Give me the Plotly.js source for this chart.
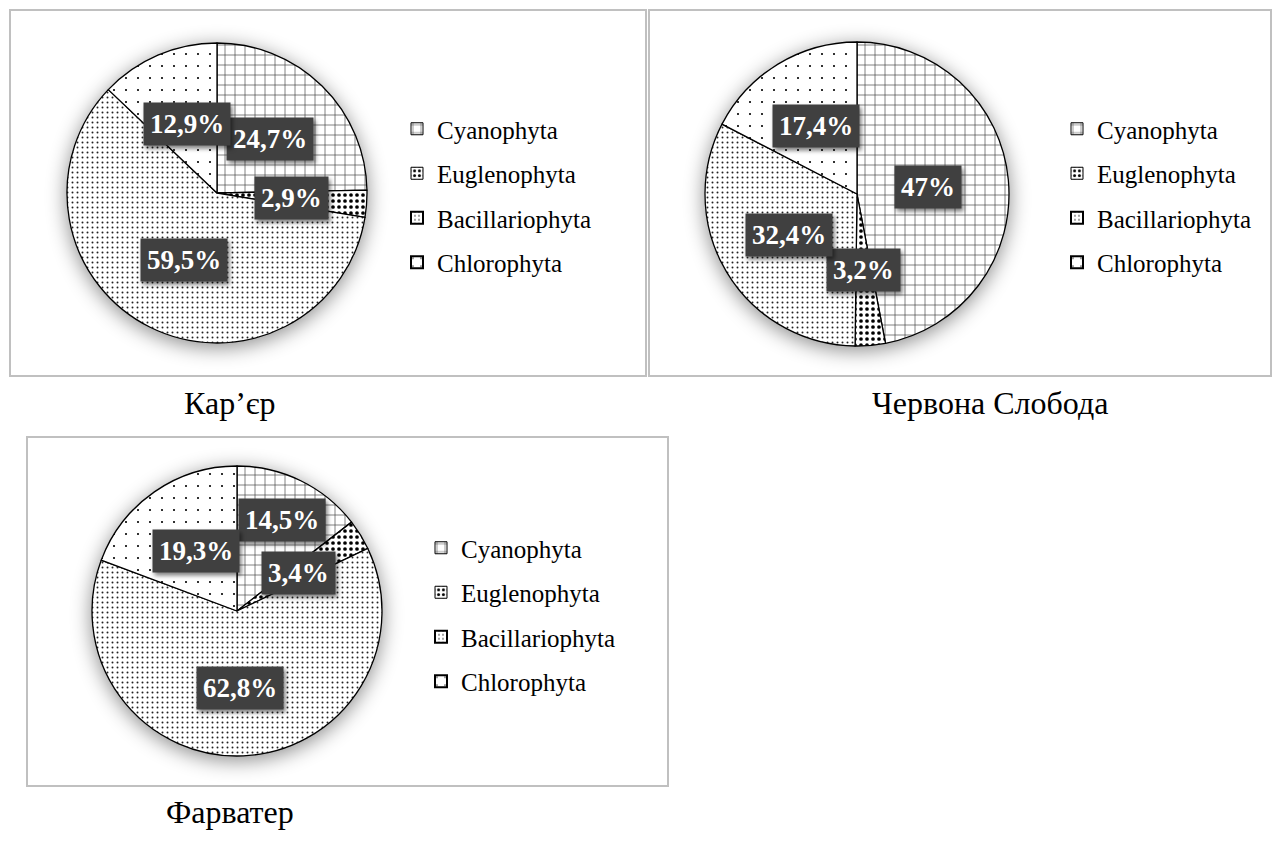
<!DOCTYPE html>
<html>
<head>
<meta charset="utf-8">
<script src="https://cdn.plot.ly/plotly-3.0.1.min.js"></script>
<style>
html, body { margin: 0; padding: 0; background: #ffffff; }
#chart { width: 1272px; height: 849px; }
.pielayer .trace { filter: drop-shadow(0px 4px 10px rgba(0,0,0,0.45)); }
.annotation-text-g rect.bg { filter: drop-shadow(2px 3px 2px rgba(0,0,0,0.5)); }
</style>
</head>
<body>
<div id="chart"></div>
<script>
// ---------- data ----------
const categories = ['Cyanophyta', 'Euglenophyta', 'Bacillariophyta', 'Chlorophyta'];
const karierValues = [24.7, 2.9, 59.5, 12.9];
const slobodaValues = [47, 3.2, 32.4, 17.4];
const farvaterValues = [14.5, 3.4, 62.8, 19.3];
const siteNames = ['Кар’єр', 'Червона Слобода', 'Фарватер'];

// ---------- styles / geometry (pixels) ----------
const W = 1272, H = 849;
const FONT = '"Liberation Serif", "Times New Roman", serif';
const patterns = [
  { shape: '+', size: 10, solidity: 0.12, fgcolor: '#333333', bgcolor: '#ffffff' },
  { shape: '.', size: 6, solidity: 0.3, fgcolor: '#000000', bgcolor: '#ffffff' },
  { shape: '.', size: 5, solidity: 0.12, fgcolor: '#222222', bgcolor: '#ffffff' },
  { shape: '.', size: 12, solidity: 0.025, fgcolor: '#000000', bgcolor: '#ffffff' }
];
const panels = [
  { values: karierValues, cx: 217, cy: 193, r: 150, box: [10, 10, 646, 376],
    title: [230, 403], legend: [397, 106], labelK: [0.5, 0.5, 0.5, 0.5] },
  { values: slobodaValues, cx: 857, cy: 194, r: 152, box: [649, 10, 1271, 376],
    title: [990, 403], legend: [1057, 106], labelK: [0.47, 0.5, 0.52, 0.52] },
  { values: farvaterValues, cx: 237, cy: 611, r: 145, box: [27, 437, 668, 786],
    title: [230, 812], legend: [421, 525], labelK: [0.7, 0.5, 0.53, 0.5] }
];

const px = x => x / W;
const py = y => 1 - y / H;
const fmt = v => String(v).replace('.', ',') + '%';

const traces = [];
const annotations = [];
const shapes = [];
const layout = {
  width: W, height: H,
  margin: { l: 0, r: 0, t: 0, b: 0 },
  paper_bgcolor: '#ffffff', plot_bgcolor: '#ffffff',
  xaxis: { visible: false }, yaxis: { visible: false },
  showlegend: true,
  annotations: annotations, shapes: shapes
};

panels.forEach((p, pi) => {
  const legendId = pi === 0 ? 'legend' : 'legend' + (pi + 1);
  traces.push({
    type: 'pie',
    labels: categories,
    values: p.values,
    sort: false,
    direction: 'clockwise',
    rotation: 0,
    textinfo: 'none',
    hoverinfo: 'label+percent',
    showlegend: false,
    domain: { x: [px(p.cx - p.r), px(p.cx + p.r)], y: [py(p.cy + p.r), py(p.cy - p.r)] },
    marker: {
      colors: categories.map(() => '#ffffff'),
      line: { color: '#000000', width: 1.3 },
      pattern: {
        shape: patterns.map(s => s.shape),
        size: patterns.map(s => s.size),
        solidity: patterns.map(s => s.solidity),
        fgcolor: patterns.map(s => s.fgcolor),
        bgcolor: patterns.map(s => s.bgcolor),
        fillmode: 'replace'
      }
    }
  });

  // legend entries (one per category, so item spacing can be set)
  categories.forEach((c, ci) => {
    traces.push({
      type: 'bar', x: [null], y: [null], name: c,
      legend: legendId, legendgroup: legendId + c, showlegend: true,
      hoverinfo: 'skip',
      marker: { color: '#ffffff', line: { color: '#000000', width: ci >= 2 ? 2 : 1 }, pattern: patterns[ci] }
    });
  });
  layout[legendId] = {
    x: px(p.legend[0]), y: py(p.legend[1]), xanchor: 'left', yanchor: 'top',
    font: { family: FONT, size: 25, color: '#000000' },
    bgcolor: 'rgba(0,0,0,0)', borderwidth: 0, tracegroupgap: 9,
    itemwidth: 30
  };

  // percentage labels at mid-angle of each slice
  const total = p.values.reduce((a, b) => a + b, 0);
  let acc = 0;
  p.values.forEach((v, i) => {
    const mid = (acc + v / 2) / total * 2 * Math.PI;
    acc += v;
    const k = p.labelK[i] * p.r;
    annotations.push({
      xref: 'paper', yref: 'paper',
      x: px(p.cx + Math.sin(mid) * k), y: py(p.cy - Math.cos(mid) * k),
      xanchor: 'center', yanchor: 'middle', showarrow: false,
      text: '<b>' + fmt(v) + '</b>',
      font: { family: FONT, size: 27, color: '#ffffff' },
      bgcolor: '#404040', borderpad: 6
    });
  });

  // site title
  annotations.push({
    xref: 'paper', yref: 'paper', x: px(p.title[0]), y: py(p.title[1]),
    xanchor: 'center', yanchor: 'middle', showarrow: false,
    text: siteNames[pi], font: { family: FONT, size: 32, color: '#000000' }
  });

  // panel frame
  shapes.push({
    type: 'rect', xref: 'paper', yref: 'paper',
    x0: px(p.box[0]), x1: px(p.box[2]), y0: py(p.box[3]), y1: py(p.box[1]),
    line: { color: '#c0c0c0', width: 2 }, fillcolor: 'rgba(0,0,0,0)', layer: 'below'
  });
});

Plotly.newPlot('chart', traces, layout, { displayModeBar: false, staticPlot: true });
</script>
</body>
</html>
